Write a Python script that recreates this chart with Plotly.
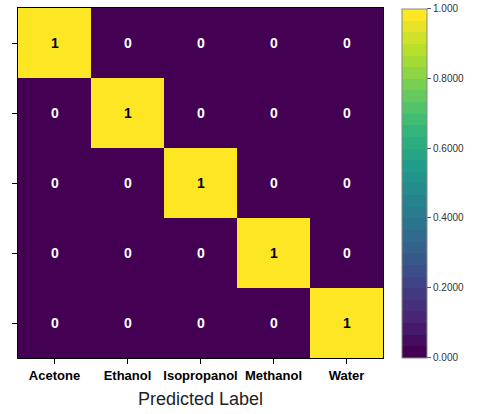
import plotly.graph_objects as go
from plotly.colors import sample_colorscale

labels = ["Acetone", "Ethanol", "Isopropanol", "Methanol", "Water"]
matrix = [
    [1, 0, 0, 0, 0],
    [0, 1, 0, 0, 0],
    [0, 0, 1, 0, 0],
    [0, 0, 0, 1, 0],
    [0, 0, 0, 0, 1],
]
cbar_vals = [0, 0.2, 0.4, 0.6, 0.8, 1.0]
cbar_text = ["0.000", "0.2000", "0.4000", "0.6000", "0.8000", "1.000"]

# discretized viridis (stepped colorbar)
n = 30
cols = sample_colorscale("Viridis", [i / (n - 1) for i in range(n)])
cscale = []
for i, c in enumerate(cols):
    cscale.append([i / n, c])
    cscale.append([(i + 1) / n, c])

fig = go.Figure(go.Heatmap(
    z=matrix, x=labels, y=labels,
    colorscale=cscale, zmin=0, zmax=1,
    hoverinfo="skip",
    colorbar=dict(
        thickness=25, len=349, lenmode="pixels",
        x=1.052, xanchor="left", y=0.5, yanchor="middle", xpad=0, ypad=0,
        outlinewidth=1, outlinecolor="#888",
        tickvals=cbar_vals, ticktext=cbar_text,
        ticks="outside", ticklen=4, tickcolor="#555",
        tickfont=dict(size=10, family="Liberation Sans", color="#333"),
    ),
))

for i, row in enumerate(matrix):
    for j, v in enumerate(row):
        fig.add_annotation(
            x=labels[j], y=labels[i], text=f"<b>{v}</b>", showarrow=False,
            font=dict(size=14, family="Liberation Sans",
                      color="black" if v > 0.5 else "white"),
        )

fig.update_layout(
    width=477, height=414,
    margin=dict(l=18, r=94, t=8, b=56, autoexpand=False),
    plot_bgcolor="white", paper_bgcolor="white",
    font=dict(family="Liberation Sans", color="black"),
)
fig.update_xaxes(
    title=dict(text="Predicted Label", font=dict(size=18, color="#222"), standoff=10),
    tickfont=dict(size=13, weight="bold", color="black"),
    ticks="outside", ticklen=5, tickcolor="black",
    showline=True, mirror=True, linecolor="black", linewidth=1,
    showgrid=False, zeroline=False,
)
fig.update_yaxes(
    autorange="reversed", showticklabels=False,
    ticks="outside", ticklen=5, tickcolor="black",
    showline=True, mirror=True, linecolor="black", linewidth=1,
    showgrid=False, zeroline=False,
)
fig.write_html("out.html")
